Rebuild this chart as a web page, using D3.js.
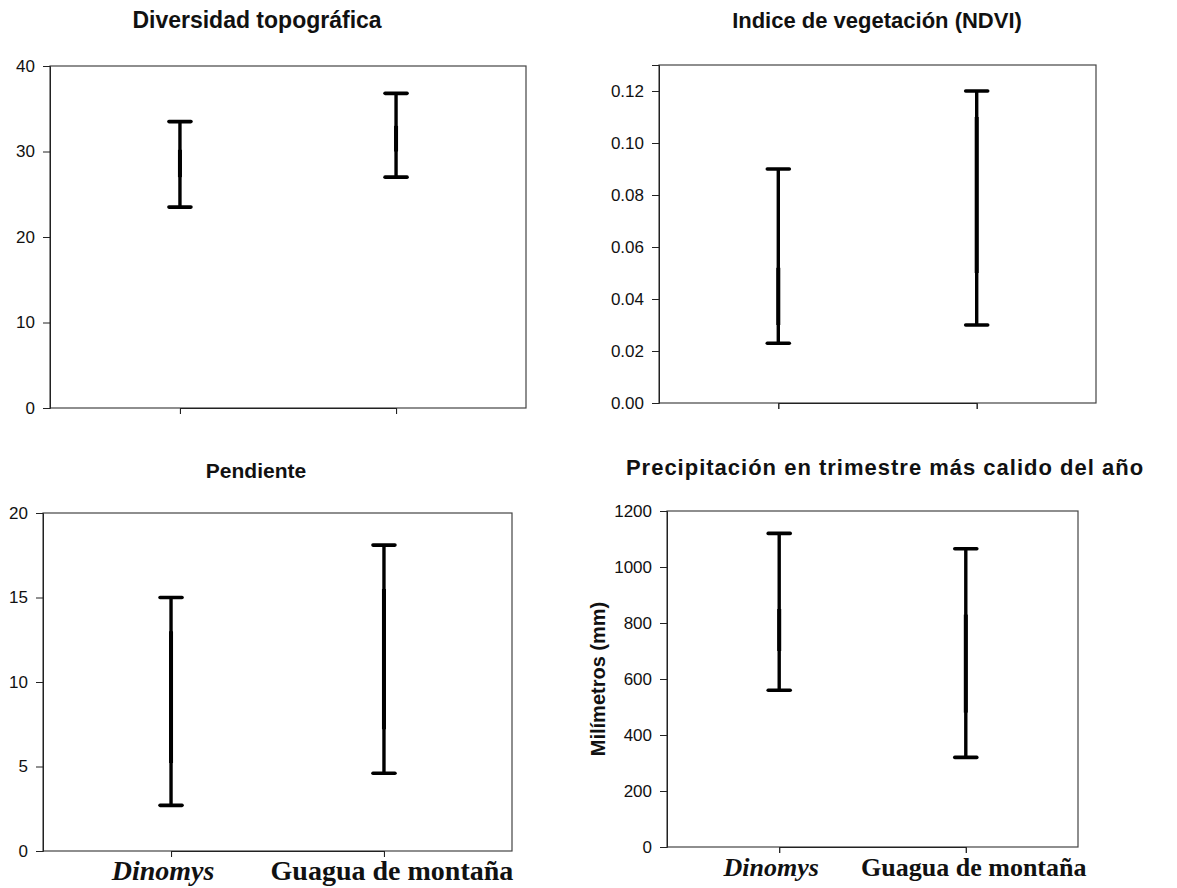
<!DOCTYPE html>
<html><head><meta charset="utf-8">
<script src="https://cdn.jsdelivr.net/npm/d3@7"></script>
<style>body{margin:0;background:#fff}svg{display:block}</style>
</head><body>
<svg id="c" width="1177" height="888"></svg>
<script>
const categories = ["Dinomys", "Guagua de montaña"];
const titles = ["Diversidad topográfica", "Indice de vegetación (NDVI)", "Pendiente", "Precipitación en trimestre más calido del año"];
// min, q1, q3, max per category
const topoMin = [23.5, 27.0], topoLow = [27.0, 30.0], topoHigh = [30.2, 33.0], topoMax = [33.5, 36.8];
const ndviMin = [0.023, 0.030], ndviLow = [0.030, 0.050], ndviHigh = [0.052, 0.110], ndviMax = [0.090, 0.120];
const pendMin = [2.7, 4.6], pendLow = [5.2, 7.2], pendHigh = [13.0, 15.5], pendMax = [15.0, 18.1];
const precMin = [560, 320], precLow = [700, 480], precHigh = [850, 830], precMax = [1120, 1065];
const topoTicks = [0, 10, 20, 30, 40];
const ndviTicks = [0, 0.02, 0.04, 0.06, 0.08, 0.10, 0.12];
const pendTicks = [0, 5, 10, 15, 20];
const precTicks = [0, 200, 400, 600, 800, 1000, 1200];

const svg = d3.select("#c");
const SANS = "Arial, 'Liberation Sans', sans-serif";
const SERIF = "'Times New Roman', 'Liberation Serif', serif";
const panels = [
  {l:50, t:66, r:526, b:408, dom:[0,40], ticks:topoTicks, fmt:d3.format("d"), mn:topoMin, lo:topoLow, hi:topoHigh, mx:topoMax, title:titles[0], tx:257, ty:28, tsize:23, ls:0, labels:false},
  {l:659, t:65, r:1096, b:403, dom:[0,0.13], ticks:ndviTicks, fmt:d3.format(".2f"), mn:ndviMin, lo:ndviLow, hi:ndviHigh, mx:ndviMax, title:titles[1], tx:877, ty:28, tsize:22, ls:0, labels:false},
  {l:43, t:513, r:512, b:851, dom:[0,20], ticks:pendTicks, fmt:d3.format("d"), mn:pendMin, lo:pendLow, hi:pendHigh, mx:pendMax, title:titles[2], tx:256, ty:478, tsize:21, ls:0, labels:true, lsize:28},
  {l:667, t:511, r:1078, b:847, dom:[0,1200], ticks:precTicks, fmt:d3.format("d"), mn:precMin, lo:precLow, hi:precHigh, mx:precMax, title:titles[3], tx:885, ty:475, tsize:22, ls:1, labels:true, lsize:26, ylab:"Milímetros (mm)"}
];

panels.forEach(p => {
  const g = svg.append("g");
  const y = d3.scaleLinear().domain(p.dom).range([p.b, p.t]);
  const w = p.r - p.l;
  const x = d3.scalePoint().domain(categories).range([p.l + w*0.273, p.l + w*0.727]);
  g.append("rect").attr("x", p.l).attr("y", p.t).attr("width", w).attr("height", p.b - p.t)
    .attr("fill", "none").attr("stroke", "#444").attr("stroke-width", 1.2);
  const ya = g.append("g").attr("transform", `translate(${p.l},0)`)
    .call(d3.axisLeft(y).tickValues(p.ticks).tickFormat(p.fmt).tickSize(7).tickPadding(8));
  ya.select(".domain").attr("stroke", "#222");
  ya.selectAll("line").attr("stroke", "#222");
  ya.selectAll("text").attr("font-family", SANS).attr("font-size", 17).attr("fill", "#111");
  const xa = g.append("g").attr("transform", `translate(0,${p.b})`)
    .call(d3.axisBottom(x).tickSize(6).tickFormat(""));
  xa.select(".domain").attr("stroke", "#222");
  xa.selectAll("line").attr("stroke", "#222");
  g.append("text").attr("x", p.tx).attr("y", p.ty).attr("text-anchor", "middle")
    .attr("font-family", SANS).attr("font-weight", "bold").attr("letter-spacing", p.ls)
    .attr("font-size", p.tsize).attr("fill", "#111").text(p.title);
  categories.forEach((c, i) => {
    const cx = x(c);
    g.append("line").attr("x1", cx).attr("x2", cx).attr("y1", y(p.mn[i])).attr("y2", y(p.mx[i]))
      .attr("stroke", "#000").attr("stroke-width", 3.4);
    g.append("line").attr("x1", cx).attr("x2", cx).attr("y1", y(p.lo[i])).attr("y2", y(p.hi[i]))
      .attr("stroke", "#000").attr("stroke-width", 4);
    [p.mn[i], p.mx[i]].forEach(v => {
      g.append("line").attr("x1", cx - 11).attr("x2", cx + 11).attr("y1", y(v)).attr("y2", y(v))
        .attr("stroke", "#000").attr("stroke-width", 3.6).attr("stroke-linecap", "round");
    });
  });
  if (p.labels) {
    categories.forEach((c, i) => {
      g.append("text").attr("x", x(c) + (i === 0 ? -8 : 8)).attr("y", p.b + 29).attr("text-anchor", "middle")
        .attr("font-family", SERIF).attr("font-weight", "bold")
        .attr("font-style", i === 0 ? "italic" : "normal").attr("font-size", p.lsize).attr("fill", "#111").text(c);
    });
  }
  if (p.ylab) {
    g.append("text").attr("transform", `translate(605,${(p.t + p.b)/2 + 0}) rotate(-90)`)
      .attr("text-anchor", "middle").attr("font-family", SANS)
      .attr("font-weight", "bold").attr("font-size", 20).attr("fill", "#111").text(p.ylab);
  }
});
</script>
</body></html>
